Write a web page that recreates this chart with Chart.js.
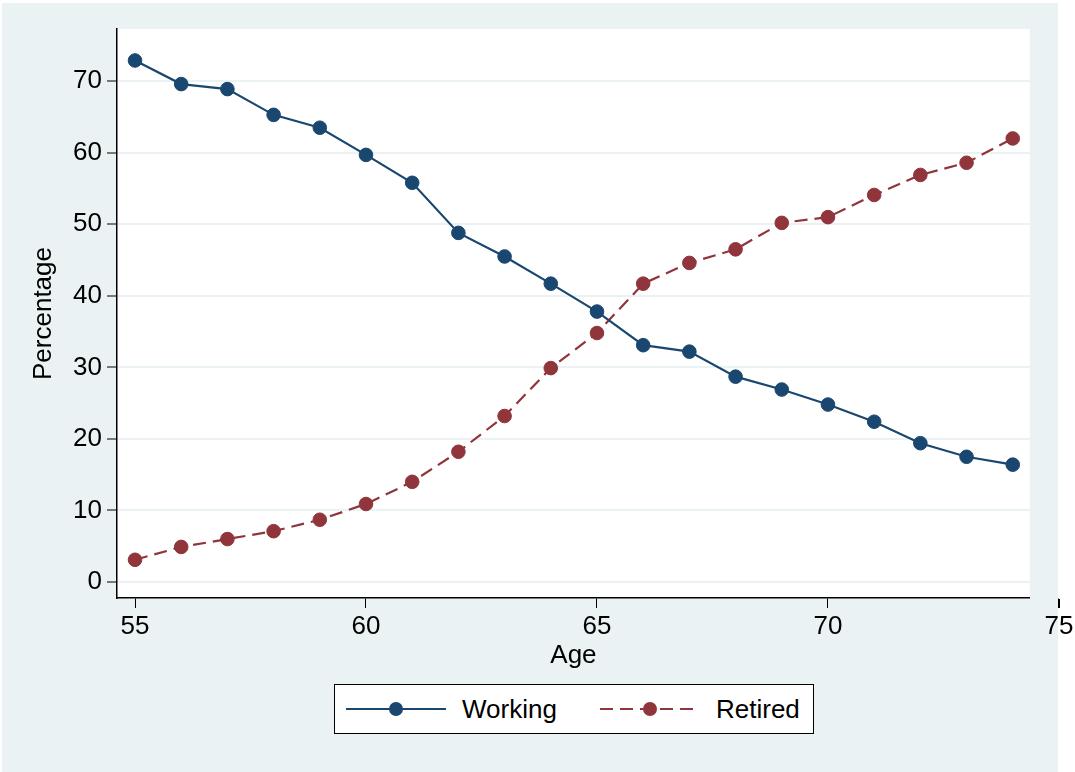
<!DOCTYPE html>
<html>
<head>
<meta charset="utf-8">
<script src="https://cdn.jsdelivr.net/npm/chart.js@4.4.1/dist/chart.umd.min.js"></script>
<style>
  html, body { margin: 0; padding: 0; background: #fff; }
  #wrap { position: relative; width: 1075px; height: 772px; overflow: hidden; }
  #bg { position: absolute; left: 2px; top: 3px; width: 1056px; height: 769px; background: #EAF2F3; }
  #chart { position: absolute; left: 0; top: 0; }
  #legend {
    position: absolute; left: 334px; top: 684px; width: 478px; height: 48px;
    background: #fff; border: 1px solid #000;
    font-family: "Liberation Sans", Arial, Helvetica, sans-serif; font-size: 26px; color: #000;
  }
  #legend .item { position: absolute; top: 0; height: 48px; display: flex; align-items: center; }
  #legend canvas { display: block; }
  #legend span { margin-left: 16px; }
</style>
</head>
<body>
<div id="wrap">
  <div id="bg"></div>
  <canvas id="chart" width="1075" height="772"></canvas>
  <div id="legend"></div>
</div>
<script>
// ---- data ----
var ages = [55, 56, 57, 58, 59, 60, 61, 62, 63, 64, 65, 66, 67, 68, 69, 70, 71, 72, 73, 74];
var working = [72.9, 69.6, 68.9, 65.3, 63.5, 59.7, 55.8, 48.8, 45.5, 41.7, 37.8, 33.1, 32.2, 28.7, 26.9, 24.8, 22.4, 19.4, 17.5, 16.4];
var retired = [3.1, 4.9, 6.0, 7.1, 8.7, 10.9, 14.0, 18.2, 23.2, 29.9, 34.8, 41.7, 44.6, 46.5, 50.2, 51.0, 54.1, 56.9, 58.6, 62.0];
var xTicks = [55, 60, 65, 70, 75];
var yTicks = [0, 10, 20, 30, 40, 50, 60, 70];
var seriesNames = ["Working", "Retired"];

var NAVY = "#1A476F";
var MAROON = "#90353B";
var GRID = "#EAF2F3";
var FONT = "'Liberation Sans', Arial, Helvetica, sans-serif";
var DASH = [13, 7];
var FS = 26;

function _pts(vals) {
  return ages.map(function(a, i) { return { x: a, y: vals[i] }; });
}

// white plot region + the out-of-range 75 tick mark (Stata draws it past the plot edge)
var plotPlugin = {
  id: "plotRegion",
  beforeDraw: function(chart) {
    var a = chart.chartArea, ctx = chart.ctx;
    ctx.save();
    ctx.fillStyle = "#fff";
    ctx.fillRect(a.left, a.top, a.right - a.left, a.bottom - a.top);
    ctx.restore();
  },
  afterDraw: function(chart) {
    var xs = chart.scales.x, ctx = chart.ctx;
    xTicks.forEach(function(v) {
      if (v <= xs.max) return;
      var px = Math.round(xs.getPixelForValue(v)) + 0.5;
      ctx.save();
      ctx.strokeStyle = "#000";
      ctx.lineWidth = 1;
      ctx.beginPath();
      ctx.moveTo(px, xs.top + 1);
      ctx.lineTo(px, xs.top + 10);
      ctx.stroke();
      ctx.restore();
    });
  }
};

new Chart(document.getElementById("chart").getContext("2d"), {
  type: "line",
  data: {
    datasets: [
      {
        label: seriesNames[0],
        data: _pts(working),
        borderColor: NAVY,
        backgroundColor: NAVY,
        borderWidth: 2.2,
        pointRadius: 6.8,
        pointBackgroundColor: NAVY,
        pointBorderColor: NAVY,
        pointBorderWidth: 1,
        tension: 0,
        fill: false
      },
      {
        label: seriesNames[1],
        data: _pts(retired),
        borderColor: MAROON,
        backgroundColor: MAROON,
        borderWidth: 2.2,
        borderDash: DASH,
        pointRadius: 6.8,
        pointBackgroundColor: MAROON,
        pointBorderColor: MAROON,
        pointBorderWidth: 1,
        tension: 0,
        fill: false
      }
    ]
  },
  options: {
    responsive: false,
    animation: false,
    devicePixelRatio: 1,
    layout: { padding: { left: 0, right: 44, top: 29, bottom: 94 } },
    plugins: {
      legend: { display: false },
      tooltip: { enabled: false },
      title: { display: false }
    },
    scales: {
      x: {
        type: "linear",
        min: 54.61,
        max: 74.37,
        afterBuildTicks: function(s) { s.ticks = xTicks.map(function(v) { return { value: v }; }); },
        afterFit: function(s) { s.height = 80; },
        ticks: {
          autoSkip: false,
          maxRotation: 0,
          padding: 3,
          color: "#000",
          font: { family: FONT, size: FS },
          callback: function(v) { return String(v); }
        },
        grid: {
          display: true,
          drawOnChartArea: false,
          drawTicks: true,
          tickLength: 10,
          tickColor: "#000",
          tickWidth: 1
        },
        border: { display: true, color: "#000", width: 1.5 },
        title: {
          display: true,
          text: "Age",
          color: "#000",
          font: { family: FONT, size: FS },
          padding: { top: 0, bottom: 7 }
        }
      },
      y: {
        type: "linear",
        min: -2.24,
        max: 77.3,
        afterBuildTicks: function(s) { s.ticks = yTicks.map(function(v) { return { value: v }; }); },
        afterFit: function(s) { s.width = 117; },
        ticks: {
          padding: 5,
          color: "#000",
          font: { family: FONT, size: FS },
          callback: function(v) { return String(v); }
        },
        grid: {
          display: true,
          drawOnChartArea: true,
          color: GRID,
          lineWidth: 2,
          drawTicks: true,
          tickLength: 10,
          tickColor: "#000",
          tickWidth: 1
        },
        border: { display: true, color: "#000", width: 1.5 },
        title: {
          display: true,
          text: "Percentage",
          color: "#000",
          font: { family: FONT, size: FS },
          padding: { top: 28, bottom: 0 }
        }
      }
    }
  },
  plugins: [plotPlugin]
});

// ---- legend (box below the plot, like Stata's) ----
function _sample(color, dash) {
  var c = document.createElement("canvas");
  c.width = 100; c.height = 20;
  var g = c.getContext("2d");
  g.strokeStyle = color;
  g.lineWidth = 2.2;
  g.setLineDash(dash || []);
  g.beginPath();
  g.moveTo(0, 10); g.lineTo(100, 10);
  g.stroke();
  g.setLineDash([]);
  g.fillStyle = color;
  g.beginPath();
  g.arc(50, 10, 7, 0, Math.PI * 2);
  g.fill();
  return c;
}

var legend = document.getElementById("legend");
[[NAVY, null, 11], [MAROON, DASH, 265]].forEach(function(cfg, i) {
  var item = document.createElement("div");
  item.className = "item";
  item.style.left = cfg[2] + "px";
  item.appendChild(_sample(cfg[0], cfg[1]));
  var sp = document.createElement("span");
  sp.textContent = seriesNames[i];
  item.appendChild(sp);
  legend.appendChild(item);
});
</script>
</body>
</html>
